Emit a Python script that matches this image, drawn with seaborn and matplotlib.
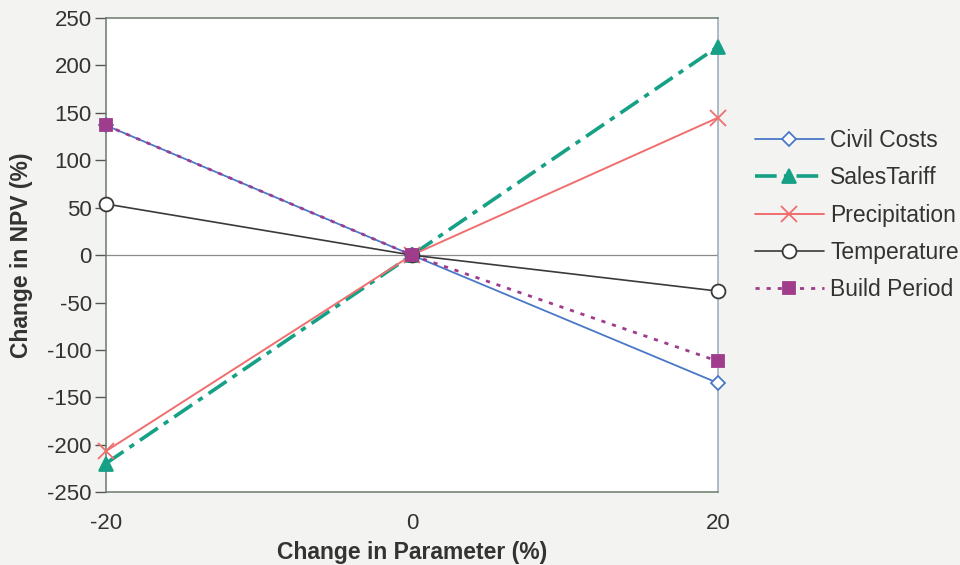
import pandas as pd
import seaborn as sns
import matplotlib.pyplot as plt

# Sensitivity of NPV to each parameter
change_param = [-20, 0, 20]
civil_costs = [137, 0, -135]
sales_tariff = [-220, 0, 220]
precipitation = [-207, 0, 145]
temperature = [54, 0, -38]
build_period = [137, 0, -112]

series_names = ["Civil Costs", "SalesTariff", "Precipitation", "Temperature", "Build Period"]
series_values = [civil_costs, sales_tariff, precipitation, temperature, build_period]

rows = []
for name, vals in zip(series_names, series_values):
    for x, y in zip(change_param, vals):
        rows.append({"param": x, "npv": y, "series": name})
df = pd.DataFrame(rows)

styles = {
    "Civil Costs": dict(color="#4a78c8", ls="-", marker="D", mfc="white", ms=7, lw=1.3),
    "SalesTariff": dict(color="#16a085", ls=(0, (6, 2, 1.5, 2)), marker="^", mfc="#16a085", ms=10, lw=2.6),
    "Precipitation": dict(color="#f06e6e", ls="-", marker="x", mfc="none", ms=11, lw=1.4),
    "Temperature": dict(color="#3a3a3a", ls="-", marker="o", mfc="white", ms=10, lw=1.2),
    "Build Period": dict(color="#a03c8c", ls=(0, (1.5, 2.5)), marker="s", mfc="#a03c8c", ms=8, lw=2.0),
}

sns.set_style("white")
plt.rcParams["font.family"] = ["Liberation Sans", "DejaVu Sans"]
plt.rcParams["axes.unicode_minus"] = False

fig = plt.figure(figsize=(9.6, 5.65), dpi=100, facecolor="#f3f3f1")
ax = fig.add_axes([0.110, 0.129, 0.638, 0.839])
ax.set_facecolor("white")

ax.axhline(0, color="#8a8a8a", lw=0.9, zorder=1)

for name in series_names:
    st = styles[name]
    sub = df[df["series"] == name]
    sns.lineplot(data=sub, x="param", y="npv", ax=ax, color=st["color"], linestyle=st["ls"],
                 linewidth=st["lw"], marker=st["marker"], markersize=st["ms"],
                 markerfacecolor=st["mfc"], markeredgecolor=st["color"], markeredgewidth=1.3,
                 label=name, zorder=3, clip_on=False)

ax.set_xlim(-20, 20)
ax.set_ylim(-250, 250)
ax.set_yticks(range(-250, 251, 50))
ax.set_xticks(change_param)
ax.tick_params(axis="y", direction="out", length=8, width=1, color="#555555",
               labelsize=16, labelcolor="#333333", left=True, pad=2)
ax.tick_params(axis="x", length=0, pad=15, labelsize=16, labelcolor="#333333")

for side in ["left", "bottom", "top"]:
    ax.spines[side].set_color("#6a7a6a")
    ax.spines[side].set_linewidth(1.1)
ax.spines["right"].set_color("#9aaab8")
ax.spines["right"].set_linewidth(1.1)

ax.set_xlabel("Change in Parameter (%)", fontsize=16.5, fontweight="bold", color="#333333", labelpad=5)
ax.set_ylabel("Change in NPV (%)", fontsize=16.5, fontweight="bold", color="#333333", labelpad=10)

leg = ax.legend(loc="upper left", bbox_to_anchor=(1.045, 0.785), frameon=False, fontsize=16.5,
                handlelength=3.0, handletextpad=0.3, labelspacing=0.62, borderaxespad=0.0,
                labelcolor="#333333")

fig.savefig("out.png", dpi=100, facecolor=fig.get_facecolor())
